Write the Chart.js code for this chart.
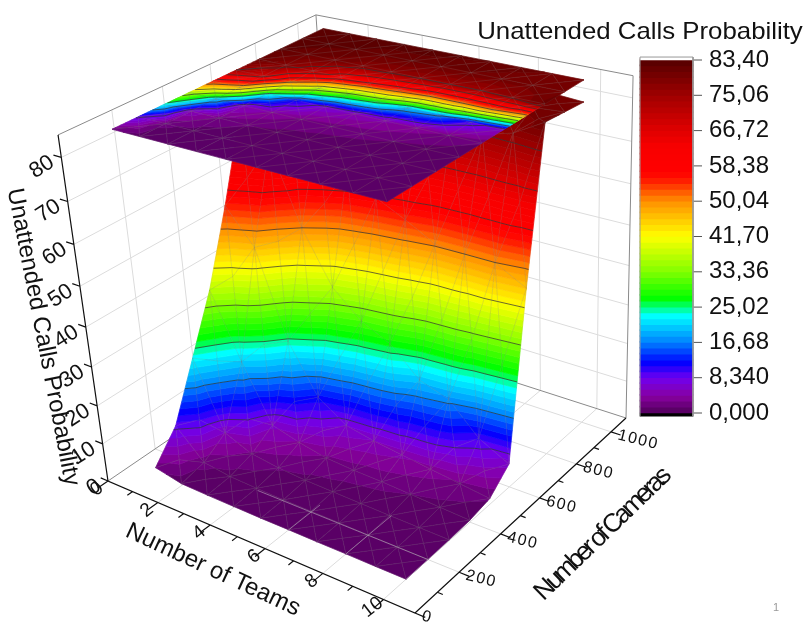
<!DOCTYPE html>
<html><head><meta charset="utf-8">
<style>html,body{margin:0;padding:0;background:#fff}canvas{display:block}</style>
<script src="https://cdn.jsdelivr.net/npm/chart.js@4"></script>
</head><body><canvas id="c" width="804" height="624"></canvas>
<script>
const teams=[1,2,3,4,5,6,7,8,9,10];
const cameras=[100,200,300,400,500,600,700,800,900,1000];
const probTeams1=[2,9,23,37,55,75,81,82.5,83,83.4];
const probTeams2=[0.5,1.8,5.5,20.5,46.5,68.5,77.5,81,82.5,83.4];
const probTeams3=[0.3,0.8,2.5,6,24.5,50,72,80,82,83];
const probTeams4=[0.2,0.5,1.5,4,12,37,63,78,81,83];
const probTeams5=[0.1,0.3,1,2.5,7,30.5,58,77,81,83];
const probTeams6=[0.1,0.25,0.8,2,5.5,27,54.5,76,80.5,82.5];
const probTeams7=[0.05,0.2,0.6,1.8,4.5,20,50.5,75.5,80.5,82];
const probTeams8=[0.05,0.1,0.4,1.4,3.5,17.5,50,75,80,81];
const probTeams9=[0,0.1,0.3,0.9,2.5,10,50,77,80,80.5];
const probTeams10=[0,0.05,0.2,0.5,1.5,6,46,81,80.5,80];
const probRows=[probTeams1,probTeams2,probTeams3,probTeams4,probTeams5,probTeams6,probTeams7,probTeams8,probTeams9,probTeams10];
const teamTicks=[0,2,4,6,8,10], teamMinor=[1,3,5,7,9];
const cameraTicks=[0,200,400,600,800,1000], cameraMinor=[100,300,500,700,900];
const probTicks=[0,10,20,30,40,50,60,70,80];
const levelValues=[0,8.34,16.68,25.02,33.36,41.7,50.04,58.38,66.72,75.06,83.4];
const levelLabels=['0,000','8,340','16,68','25,02','33,36','41,70','50,04','58,38','66,72','75,06','83,40'];
const titleProb='Unattended Calls Probability', titleTeams='Number of Teams', titleCams='Number of Cameras';
const colorStops=[[0,'#50005a'],[4,'#8800a0'],[8.34,'#7000f0'],[12,'#0000ff'],[16.68,'#0080ff'],[23,'#00ffff'],[27,'#00ff00'],[33.36,'#80ff00'],[41.7,'#ffff00'],[50,'#ff9000'],[55.5,'#ff1000'],[57,'#ff0000'],[63,'#f80000'],[66.72,'#e00000'],[75,'#a00000'],[83.4,'#550000']];
const xMax=11,yMax=1090,zMax=85,zTop=85,vMax=83.4,bandCount=60;

// projective camera: floor homography + vertical vanishing point
const fA=[108,481],fB=[415,613],fC=[626,418],fD=[337,325],vz=[560,3613],lam=-0.0995;
const H=(function(){
  const [x0,y0]=fA,[x1,y1]=fB,[x2,y2]=fC,[x3,y3]=fD;
  const dx1=x1-x2,dx2=x3-x2,sx=x0-x1+x2-x3,dy1=y1-y2,dy2=y3-y2,sy=y0-y1+y2-y3;
  const d=dx1*dy2-dx2*dy1;
  const g=(sx*dy2-dx2*sy)/d,h=(dx1*sy-sx*dy1)/d;
  return [[x1-x0+g*x1,x3-x0+h*x3,x0],[y1-y0+g*y1,y3-y0+h*y3,y0],[g,h,1]];
})();
function proj(X,Y,Z){
  const u=X/xMax,v=Y/yMax,w=Z/zMax;
  const a=H[0][0]*u+H[0][1]*v+H[0][2]+w*lam*vz[0];
  const b=H[1][0]*u+H[1][1]*v+H[1][2]+w*lam*vz[1];
  const c=H[2][0]*u+H[2][1]*v+H[2][2]+w*lam;
  return {x:a/c,y:b/c};
}
function polyline(list){const o=[];list.forEach(s=>{s.forEach(p=>o.push(proj(p[0],p[1],p[2])));o.push({x:NaN,y:NaN});});return o;}

function hex(c){return [parseInt(c.slice(1,3),16),parseInt(c.slice(3,5),16),parseInt(c.slice(5,7),16)];}
function colorAt(z){
  for(let i=1;i<colorStops.length;i++){
    if(z<=colorStops[i][0]){
      const [a,ca]=colorStops[i-1],[b,cb]=colorStops[i];const t=Math.max(0,(z-a)/(b-a));
      const A=hex(ca),B=hex(cb);
      return `rgb(${Math.round(A[0]+(B[0]-A[0])*t)},${Math.round(A[1]+(B[1]-A[1])*t)},${Math.round(A[2]+(B[2]-A[2])*t)})`;
    }
  }
  return colorStops[colorStops.length-1][1];
}
const bandStep=vMax/bandCount;
const bandIdx=[...Array(bandCount).keys()];

// grid lines on back walls and floor
const gridSegs=[];
cameraTicks.slice(1).forEach(c=>{gridSegs.push([[0,c,0],[0,c,zMax]]);gridSegs.push([[0,c,0],[xMax,c,0]]);});
teamTicks.slice(1).forEach(t=>{gridSegs.push([[t,yMax,0],[t,yMax,zMax]]);gridSegs.push([[t,0,0],[t,yMax,0]]);});
probTicks.slice(1).forEach(z=>{gridSegs.push([[0,0,z],[0,yMax,z]]);gridSegs.push([[0,yMax,z],[xMax,yMax,z]]);});
const frameSegs=[[[0,0,zMax],[0,yMax,zMax],[xMax,yMax,zMax]],[[0,0,0],[0,yMax,0],[xMax,yMax,0]],[[0,yMax,0],[0,yMax,zMax]],[[xMax,yMax,0],[xMax,yMax,zMax]]];
const axisSegs=[[[0,0,zMax],[0,0,0],[xMax,0,0],[xMax,yMax,0]]];
teamTicks.forEach(t=>axisSegs.push([[t,0,0],[t,-42,0]]));
teamMinor.forEach(t=>axisSegs.push([[t,0,0],[t,-22,0]]));
cameraTicks.forEach(c=>axisSegs.push([[xMax,c,0],[xMax+0.32,c,0]]));
cameraMinor.forEach(c=>axisSegs.push([[xMax,c,0],[xMax+0.17,c,0]]));
probTicks.forEach(z=>axisSegs.push([[0,0,z],[-0.3,0,z]]));

const nodes=[];teams.forEach((t,i)=>cameras.forEach((c,j)=>nodes.push(proj(t,c,probRows[i][j]))));

function clip(poly,lo,hi){
  function cut(p,keep,edge){const o=[];for(let i=0;i<p.length;i++){const a=p[i],b=p[(i+1)%p.length],ka=keep(a[2]),kb=keep(b[2]);
    if(ka)o.push(a);
    if(ka!==kb){const t=(edge-a[2])/(b[2]-a[2]);o.push([a[0]+(b[0]-a[0])*t,a[1]+(b[1]-a[1])*t,edge]);}}
    return o;}
  let r=cut(poly,z=>z>=lo,lo);if(r.length)r=cut(r,z=>z<=hi,hi);return r;
}
function cellTris(i,j){
  const a=[teams[i],cameras[j],probRows[i][j]],b=[teams[i+1],cameras[j],probRows[i+1][j]],
        c=[teams[i+1],cameras[j+1],probRows[i+1][j+1]],d=[teams[i],cameras[j+1],probRows[i][j+1]];
  const m=[(a[0]+b[0]+c[0]+d[0])/4,(a[1]+b[1]+c[1]+d[1])/4,(a[2]+b[2]+c[2]+d[2])/4];
  return [[d,c,m],[a,d,m],[b,c,m],[a,b,m]];
}
function drawSurface(chart,flat){
  const ctx=chart.ctx,sx=chart.scales.x,sy=chart.scales.y;
  const pix=(p)=>{const q=proj(p[0],p[1],flat?zTop:p[2]);return [sx.getPixelForValue(q.x),sy.getPixelForValue(q.y)];};
  ctx.save();ctx.lineJoin='round';
  for(let j=cameras.length-2;j>=0;j--)for(let i=0;i<teams.length-1;i++){
    cellTris(i,j).forEach(t=>{
      const zs=t.map(p=>p[2]);const lo=Math.min(...zs),hi=Math.max(...zs);
      bandIdx.forEach(b=>{
        const bl=b*bandStep,bh=(b+1)*bandStep;
        if(bh<lo||bl>hi)return;
        const poly=clip(t,bl,bh);if(poly.length<3)return;
        ctx.beginPath();poly.forEach((p,k)=>{const q=pix(p);k?ctx.lineTo(q[0],q[1]):ctx.moveTo(q[0],q[1]);});ctx.closePath();
        const col=colorAt((bl+bh)/2);ctx.fillStyle=col;ctx.strokeStyle=col;ctx.lineWidth=0.7;ctx.fill();ctx.stroke();
      });
    });
  }
  // mesh
  ctx.strokeStyle='rgba(128,128,128,0.11)';ctx.lineWidth=1;
  for(let j=0;j<cameras.length-1;j++)for(let i=0;i<teams.length-1;i++){
    cellTris(i,j).forEach(t=>{ctx.beginPath();const a=pix(t[0]),b=pix(t[1]),c=pix(t[2]);ctx.moveTo(a[0],a[1]);ctx.lineTo(b[0],b[1]);ctx.lineTo(c[0],c[1]);ctx.closePath();ctx.stroke();});
  }
  // contour lines
  ctx.strokeStyle='rgba(50,50,50,0.72)';ctx.lineWidth=1;
  for(let j=0;j<cameras.length-1;j++)for(let i=0;i<teams.length-1;i++){
    cellTris(i,j).forEach(t=>{
      levelValues.slice(1,-1).forEach(L=>{
        const pts=[];for(let k=0;k<3;k++){const a=t[k],b=t[(k+1)%3];if((a[2]-L)*(b[2]-L)<0){const f=(L-a[2])/(b[2]-a[2]);pts.push([a[0]+(b[0]-a[0])*f,a[1]+(b[1]-a[1])*f,L]);}}
        if(pts.length===2){const a=pix(pts[0]),b=pix(pts[1]);ctx.beginPath();ctx.moveTo(a[0],a[1]);ctx.lineTo(b[0],b[1]);ctx.stroke();}
      });
    });
  }
  ctx.restore();
}
function sampleZ(X,Y){
  if(X<teams[0]||Y<cameras[0])return null;
  const fi=Math.min((X-1),8.999),fj=Math.min((Y-100)/100,8.999),i=Math.floor(fi),j=Math.floor(fj),a=fi-i,b=fj-j;
  return (probRows[i][j]*(1-a)+probRows[i+1][j]*a)*(1-b)+(probRows[i][j+1]*(1-a)+probRows[i+1][j+1]*a)*b;
}
function drawFloorThrough(chart){
  const ctx=chart.ctx,sx=chart.scales.x,sy=chart.scales.y;
  const P=(X,Y)=>{const q=proj(X,Y,0);return [sx.getPixelForValue(q.x),sy.getPixelForValue(q.y)];};
  ctx.save();ctx.strokeStyle='rgba(205,205,205,0.5)';ctx.lineWidth=1;
  function run(f,steps){let on=false;ctx.beginPath();for(let s=0;s<=steps;s++){const [X,Y]=f(s/steps);const z=sampleZ(X,Y);
    if(z!==null&&z<0.5){const p=P(X,Y);on?ctx.lineTo(p[0],p[1]):ctx.moveTo(p[0],p[1]);on=true;}else on=false;}ctx.stroke();}
  cameraTicks.slice(1,2).forEach(c=>run(t=>[1+9*t,c],80));
  teamTicks.slice(3).forEach(x=>run(t=>[x,100+900*t],160));
  ctx.restore();
}
function label(ctx,text,x,y,opt){
  ctx.save();ctx.translate(x,y);
  const a=(opt.angle||0)*Math.PI/180,b=(opt.up===undefined?(opt.angle||0)+90:opt.up)*Math.PI/180,sc=opt.sx||1;
  ctx.transform(Math.cos(a)*sc,Math.sin(a)*sc,Math.cos(b),Math.sin(b),0,0);
  ctx.font=(opt.weight||'')+' '+opt.size+'px "Liberation Sans"';ctx.fillStyle=opt.color||'#111';
  ctx.textAlign=opt.align||'center';ctx.textBaseline='middle';
  if(opt.spacing!==undefined)ctx.letterSpacing=opt.spacing+'px';
  ctx.fillText(text,0,0);ctx.restore();
}
const surfacePlugin={id:'surface',
  afterDatasetDraw(chart,args){
    if(chart.data.datasets[args.index].label!=='nodes')return;
    drawSurface(chart,false);
    drawFloorThrough(chart);
    drawSurface(chart,true);
  },
  afterDraw(chart){
    const ctx=chart.ctx,sx=chart.scales.x,sy=chart.scales.y,cb=chart.scales.cb;
    const S=(X,Y,Z)=>{const q=proj(X,Y,Z);return [sx.getPixelForValue(q.x),sy.getPixelForValue(q.y)];};
    probTicks.forEach(z=>{const p=S(0,0,z);label(ctx,String(z),p[0]-9,p[1]+3,{size:22,angle:-33,align:'right'});});
    teamTicks.forEach(t=>{const p=S(t,0,0);label(ctx,String(t),p[0]-11,p[1]+8,{size:19,angle:-38});});
    cameraTicks.forEach(c=>{const p=S(xMax,c,0);label(ctx,String(c),p[0]+7,p[1]+3,{size:16,angle:14,align:'left',spacing:1.5});});
    label(ctx,titleProb,43,337,{size:24,angle:79});
    label(ctx,titleTeams,213,570,{size:24,angle:25});
    label(ctx,titleCams,602,535,{size:26,angle:-44,spacing:-3.4});
    label(ctx,titleProb,640,32,{size:24,sx:1.075});
    levelValues.forEach((v,i)=>label(ctx,levelLabels[i],709,cb.getPixelForValue(v),{size:24,align:'left'}));
    label(ctx,'1',776,608,{size:11,color:'#999'});
  }
};
const cbTicks=[];levelValues.forEach(v=>{cbTicks.push({x:693,y:v},{x:702,y:v},{x:NaN,y:NaN});});
new Chart(document.getElementById('c'),{
  type:'scatter',
  data:{datasets:[
    {label:'grid',data:polyline(gridSegs),showLine:true,borderColor:'#dcdcdc',borderWidth:1,pointRadius:0,spanGaps:false,order:6},
    {label:'frame',data:polyline(frameSegs),showLine:true,borderColor:'#8a8a8a',borderWidth:1,pointRadius:0,spanGaps:false,order:5},
    {label:'nodes',data:nodes,pointRadius:0,showLine:false,order:3},
    {label:'axes',data:polyline(axisSegs),showLine:true,borderColor:'#111',borderWidth:1.2,pointRadius:0,spanGaps:false,order:1},
    {label:'bar',type:'bar',xAxisID:'x',yAxisID:'cb',barThickness:53,order:2,
     data:[{x:666.5,y:[-0.75,0]}].concat(bandIdx.map(b=>({x:666.5,y:[b*bandStep,(b+1)*bandStep+0.25]}))).concat([{x:666.5,y:[vMax,vMax+0.7]}]),
     backgroundColor:['#000'].concat(bandIdx.map(b=>colorAt((b+0.5)*bandStep))).concat(['#fff'])},
    {label:'barFrame',data:[{x:640,y:-0.75},{x:640,y:vMax+0.7},{x:693,y:vMax+0.7},{x:693,y:-0.75}],yAxisID:'cb',showLine:true,borderColor:'#999',borderWidth:1,pointRadius:0,order:0},
    {label:'barTicks',data:cbTicks,yAxisID:'cb',showLine:true,borderColor:'#555',borderWidth:1,pointRadius:0,spanGaps:false,order:0}
  ]},
  options:{responsive:false,animation:false,devicePixelRatio:1,
    layout:{padding:0},
    plugins:{legend:{display:false},tooltip:{enabled:false},title:{display:false}},
    scales:{
      x:{type:'linear',min:0,max:804,display:false,offset:false},
      y:{type:'linear',min:0,max:624,reverse:true,display:false,offset:false},
      cb:{type:'linear',axis:'y',display:false,offset:false,min:83.4*(413-624)/353,max:83.4*413/353}
    }},
  plugins:[surfacePlugin]
});
</script></body></html>
